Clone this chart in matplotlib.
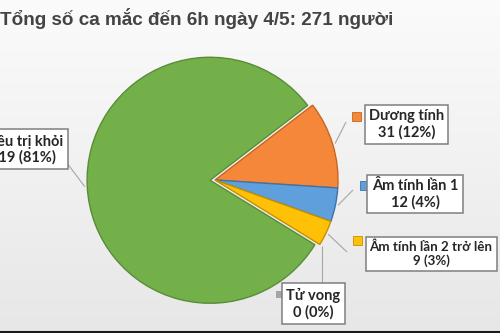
import matplotlib
matplotlib.use("Agg")
import matplotlib.pyplot as plt
import numpy as np
from matplotlib.patches import Rectangle
from matplotlib.lines import Line2D
from matplotlib.colors import LinearSegmentedColormap

# ---------------- data ----------------
title = "Tổng số ca mắc đến 6h ngày 4/5: 271 người"
categories = ["Điều trị khỏi", "Dương tính", "Âm tính lần 1", "Âm tính lần 2 trở lên", "Tử vong"]
values = [219, 31, 12, 9, 0]
percents = ["81%", "12%", "4%", "3%", "0%"]

# ---------------- style ----------------
colors = ["#74B04A", "#F4873A", "#5E9FDC", "#FFC107", "#A5A5A5"]
edge_colors = ["#5A8C38", "#C9651F", "#3F72A8", "#C49000", "#A5A5A5"]
explode = [0.04, 0, 0, 0, 0]

W, H = 500, 333
CX, CY, R = 215, 180, 123  # pie centre / radius in pixels

fig = plt.figure(figsize=(W / 100, H / 100), dpi=100)


def fx(px):
    return px / W


def fy(py):
    return 1 - py / H


# background gradient
bg = fig.add_axes([0, 0, 1, 1])
grad = np.linspace(0, 1, 256).reshape(-1, 1)
bg.imshow(grad, aspect="auto",
          cmap=LinearSegmentedColormap.from_list("g", ["#fbfbfb", "#e7e7e7"]),
          extent=[0, 1, 0, 1], origin="upper")
bg.set_axis_off()

# pie axes: data units = pie radius, origin at pie centre
ax = fig.add_axes([0, 0, 1, 1])
ax.patch.set_alpha(0)
wedges, _ = ax.pie(values, colors=colors, startangle=-31.6, counterclock=False,
                   explode=explode, radius=1,
                   wedgeprops=dict(linewidth=1.0))
for w, ec, v in zip(wedges, edge_colors, values):
    w.set_edgecolor(ec)
    if v == 0:
        w.set_linewidth(0)
ax.set_aspect("auto")
ax.set_xlim((0 - CX) / R, (W - CX) / R)
ax.set_ylim((CY - H) / R, (CY - 0) / R)
ax.set_axis_off()


def to_data(px, py):
    return (px - CX) / R, (CY - py) / R


# label layout (pixel centres), leader end points, key squares, font sizes
label_centres = [(23, 149), (406.5, 124.5), (415, 194), (431, 254), (313.5, 303.5)]
label_sizes = [10.5, 10.5, 10.5, 9.6, 10.5]
leader_ends = [(55, 147), (346, 122), (353, 190), (347, 252), (None, 285)]
key_boxes = [None, (352, 112, 9), (360, 181, 9), (353, 236, 9), (276, 291, 7)]

for w, cat, v, p, (lx, ly), fs, end, key in zip(wedges, categories, values, percents,
                                                 label_centres, label_sizes,
                                                 leader_ends, key_boxes):
    mid = np.deg2rad((w.theta1 + w.theta2) / 2)
    cx0, cy0 = w.center
    sx = cx0 + 1.02 * w.r * np.cos(mid)
    sy = cy0 + 1.02 * w.r * np.sin(mid)
    ex, ey_px = end
    exd = sx if ex is None else to_data(ex, 0)[0]
    eyd = to_data(0, ey_px)[1]
    ax.plot([sx, exd], [sy, eyd], color="#a6a6a6", lw=0.8, solid_capstyle="butt")

    fig.text(fx(lx), fy(ly), f"{cat}\n{v} ({p})", ha="center", va="center",
             fontsize=fs, fontweight="bold", family=["Lato", "DejaVu Sans"],
             color="#262626", linespacing=1.15,
             bbox=dict(boxstyle="square,pad=0.3", fc="white", ec="#7f7f7f", lw=1.1))
    if key is not None:
        kx, ky, ks = key
        fig.add_artist(Rectangle((fx(kx), fy(ky + ks)), ks / W, ks / H,
                                 transform=fig.transFigure,
                                 facecolor=w.get_facecolor(),
                                 edgecolor=w.get_edgecolor() if v else "none",
                                 lw=0.6))

# title
fig.text(fx(0), fy(25), title, ha="left", va="baseline", fontsize=13.6,
         fontweight="bold", family=["Liberation Sans", "DejaVu Sans"], color="#444444")

# bottom border line
fig.add_artist(Line2D([0, 1], [fy(332), fy(332)], transform=fig.transFigure,
                      color="#1a1a1a", lw=1.5))

fig.savefig("out.png", dpi=100)
